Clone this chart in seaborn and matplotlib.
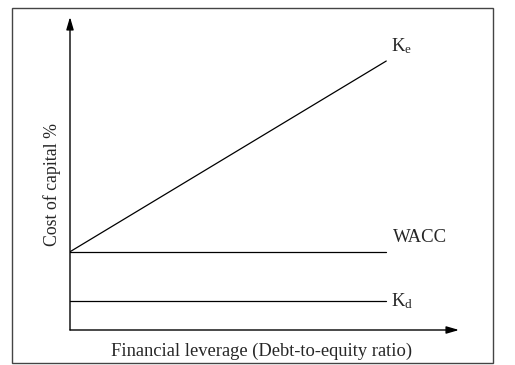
import numpy as np
import pandas as pd
import matplotlib.pyplot as plt
import seaborn as sns
from matplotlib.patches import Rectangle

# data (schematic values)
leverage = [0, 10]
ke = [4.0, 13.75]
wacc = [4.0, 4.0]
kd = [1.5, 1.5]
series_names = ["K$_e$", "WACC", "K$_d$"]

sns.set_style("white")
plt.rcParams['font.family'] = ['Liberation Serif', 'DejaVu Serif']
plt.rcParams['mathtext.default'] = 'regular'

df = pd.DataFrame({
    "Leverage": leverage * 3,
    "Cost": ke + wacc + kd,
    "Series": [s for s in series_names for _ in leverage],
})

fig = plt.figure(figsize=(5.15, 3.65), dpi=100)
W, H = 515, 365
ax = fig.add_axes([70 / W, 1 - 330 / H, 389 / W, 313 / H])

sns.lineplot(data=df, x="Leverage", y="Cost", hue="Series",
             palette=["black"] * 3, linewidth=0.9, legend=False, ax=ax)

ax.set_xlim(0, 12.3)
ax.set_ylim(0, 16)
ax.set_xticks([])
ax.set_yticks([])
for s in ax.spines.values():
    s.set_visible(False)
ax.set_xlabel("")
ax.set_ylabel("")

# axes with arrow heads
arrow = dict(arrowstyle='-|>,head_length=0.75,head_width=0.22', color='black',
             lw=1.0, shrinkA=0, shrinkB=0)
ax.annotate('', xy=(1, 0), xytext=(0, 0), xycoords='axes fraction', arrowprops=arrow)
ax.annotate('', xy=(0, 1), xytext=(0, 0), xycoords='axes fraction', arrowprops=arrow)

# line labels
ax.text(leverage[-1] + 0.15, ke[-1] + 0.75, series_names[0], fontsize=13.5, va='center')
ax.text(leverage[-1] + 0.22, wacc[-1] + 0.75, series_names[1], fontsize=13.5, va='center')
ax.text(leverage[-1] + 0.15, kd[-1], series_names[2], fontsize=13.5, va='center')

fig.text(262 / W, 1 - 351 / H, "Financial leverage (Debt-to-equity ratio)",
         fontsize=13.3, ha='center', va='center')
fig.text(52 / W, 1 - 184 / H, "Cost of capital %", fontsize=12.8,
         rotation=90, ha='center', va='center')

# outer frame
fig.patches.append(Rectangle((12 / W, 1 - 363 / H), 481 / W, 355 / H,
                             transform=fig.transFigure, fill=False,
                             edgecolor='#444444', linewidth=1.0))

plt.savefig("out.png", dpi=100)
